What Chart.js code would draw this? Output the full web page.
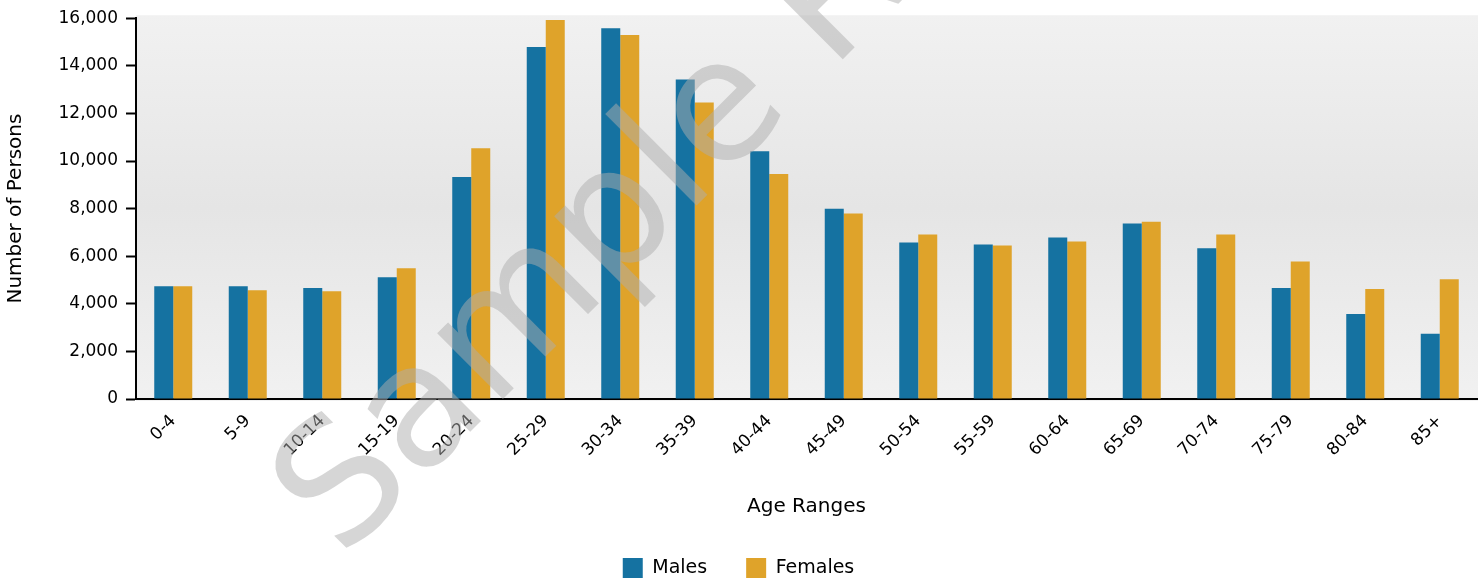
<!DOCTYPE html>
<html>
<head>
<meta charset="utf-8">
<script src="https://cdn.jsdelivr.net/npm/chart.js@4"></script>
<style>
  html, body { margin: 0; padding: 0; background: #ffffff; }
  #wrap { position: relative; width: 1481px; height: 580px; }
</style>
</head>
<body>
<div id="wrap"><canvas id="c" width="1481" height="580"></canvas></div>
<script>
const categories = ["0-4","5-9","10-14","15-19","20-24","25-29","30-34","35-39","40-44","45-49","50-54","55-59","60-64","65-69","70-74","75-79","80-84","85+"];
const males   = [4740, 4740, 4660, 5120, 9330, 14790, 15580, 13420, 10410, 7990, 6580, 6490, 6790, 7370, 6330, 4660, 3570, 2740];
const females = [4740, 4570, 4530, 5490, 10540, 15920, 15290, 12460, 9450, 7790, 6910, 6450, 6620, 7450, 6910, 5780, 4620, 5030];
const yTicks  = [0, 2000, 4000, 6000, 8000, 10000, 12000, 14000, 16000];
const seriesNames = ["Males", "Females"];
const watermarkText = "Sample Report";

const FONT = "'DejaVu Sans', Verdana, sans-serif";

const bgPlugin = {
  id: 'plotBg',
  beforeDraw(chart) {
    const {ctx, chartArea: a} = chart;
    const top = a.top - 3, bottom = a.bottom + 2;
    const g = ctx.createLinearGradient(0, top, 0, bottom);
    g.addColorStop(0, '#f1f1f1');
    g.addColorStop(0.5, '#e5e5e5');
    g.addColorStop(1, '#f1f1f1');
    ctx.save();
    ctx.fillStyle = g;
    ctx.fillRect(a.left, top, a.right - a.left + 1, bottom - top);
    ctx.restore();
  }
};

const watermarkPlugin = {
  id: 'watermark',
  afterDraw(chart) {
    const ctx = chart.ctx;
    ctx.save();
    ctx.translate(342, 560);
    ctx.rotate(-Math.PI / 4);
    ctx.font = "170px " + FONT;
    ctx.fillStyle = 'rgba(174,174,174,0.5)';
    ctx.textBaseline = 'alphabetic';
    ctx.textAlign = 'left';
    ctx.fillText(watermarkText, 0, 0);
    ctx.restore();
  }
};

new Chart(document.getElementById('c'), {
  type: 'bar',
  data: {
    labels: categories,
    datasets: [
      { label: seriesNames[0], data: males, backgroundColor: '#1572a1', borderWidth: 0 },
      { label: seriesNames[1], data: females, backgroundColor: '#dfa32a', borderWidth: 0 }
    ]
  },
  options: {
    responsive: false,
    animation: false,
    devicePixelRatio: 1,
    layout: { padding: { top: 15, right: 4, left: 0, bottom: 0 } },
    datasets: { bar: { categoryPercentage: 0.51, barPercentage: 1.0 } },
    plugins: {
      tooltip: { enabled: false },
      legend: {
        position: 'bottom',
        maxHeight: 61,
        labels: {
          font: { family: FONT, size: 19 },
          color: '#000',
          boxWidth: 20,
          boxHeight: 20,
          padding: 39
        }
      }
    },
    scales: {
      x: {
        grid: { display: false, drawTicks: false },
        border: { display: true, color: '#000', width: 2 },
        ticks: {
          font: { family: FONT, size: 17 },
          color: '#000',
          maxRotation: 45,
          minRotation: 45,
          padding: 12,
          autoSkip: false
        },
        title: {
          display: true,
          text: 'Age Ranges',
          font: { family: FONT, size: 20 },
          color: '#000',
          padding: { top: 0, bottom: 0 }
        },
        afterFit(scale) { scale.height = 120; }
      },
      y: {
        min: 0,
        max: 16000,
        afterBuildTicks(scale) { scale.ticks = yTicks.map(v => ({ value: v })); },
        grid: { display: true, drawOnChartArea: false, drawTicks: true, tickLength: 10, tickWidth: 2, tickColor: '#000' },
        border: { display: true, color: '#000', width: 2 },
        ticks: {
          font: { family: FONT, size: 17 },
          color: '#000',
          padding: 8,
          callback: v => v.toLocaleString('en-US')
        },
        title: {
          display: true,
          text: 'Number of Persons',
          font: { family: FONT, size: 20 },
          color: '#000',
          padding: { top: 4, bottom: 0 }
        },
        afterFit(scale) { scale.width = 136; }
      }
    }
  },
  plugins: [bgPlugin, watermarkPlugin]
});
</script>
</body>
</html>
